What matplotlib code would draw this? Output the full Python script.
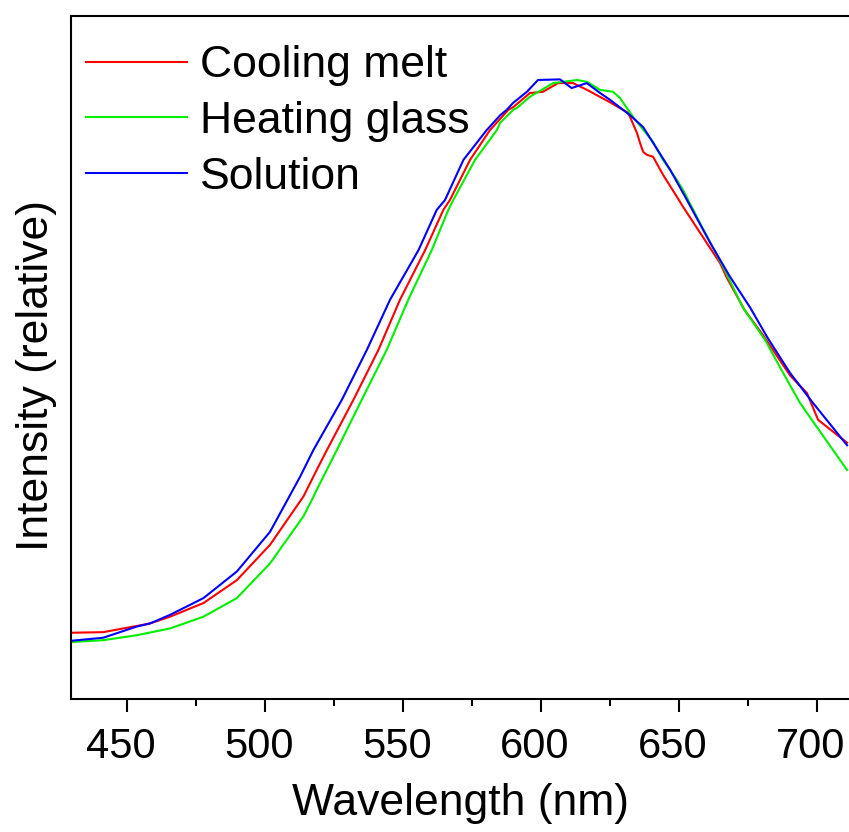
import numpy as np
import matplotlib
matplotlib.use("Agg")
import matplotlib.pyplot as plt
import matplotlib.transforms as mtransforms
from matplotlib.ticker import MultipleLocator

plt.rcParams['font.family'] = ['Liberation Sans', 'DejaVu Sans']

# emission spectra (relative intensity, peak ~ 1)
cool_wl = [429.8, 441.5, 453.6, 458.4, 465.7, 477.8, 489.9, 501.9, 514.0, 519.4,
           522.5, 532.1, 541.2, 549.0, 558.1, 564.7, 567.1, 574.4, 581.6, 588.3,
           590.0, 596.1, 600.8, 606.3, 611.7, 616.8, 625.1, 631.6, 632.4, 634.9,
           636.0, 637.1, 638.5, 640.7, 644.3, 649.4, 651.6, 658.8, 665.0, 667.5,
           673.8, 680.5, 690.3, 696.5, 700.5, 711.0]
cool_i = [0.107, 0.108, 0.118, 0.122, 0.133, 0.155, 0.192, 0.249, 0.327, 0.375,
          0.402, 0.483, 0.564, 0.645, 0.725, 0.790, 0.806, 0.871, 0.919, 0.952,
          0.956, 0.979, 0.981, 0.995, 0.995, 0.984, 0.964, 0.947, 0.940, 0.914,
          0.898, 0.884, 0.879, 0.876, 0.847, 0.811, 0.795, 0.746, 0.704, 0.680,
          0.629, 0.588, 0.523, 0.494, 0.451, 0.414]

heat_wl = [429.8, 441.5, 453.6, 465.7, 477.8, 489.9, 501.9, 514.0, 517.0, 519.4,
           526.1, 535.1, 544.2, 552.0, 560.5, 566.5, 568.3, 576.2, 584.1, 585.3,
           590.1, 591.4, 596.1, 604.5, 613.2, 616.8, 621.5, 626.2, 628.7, 633.5,
           640.7, 644.3, 649.4, 651.6, 657.7, 666.1, 673.3, 681.3, 687.8, 694.0,
           700.1, 711.0]
heat_i = [0.092, 0.095, 0.103, 0.114, 0.133, 0.163, 0.219, 0.295, 0.321, 0.343,
          0.402, 0.483, 0.564, 0.645, 0.725, 0.790, 0.806, 0.871, 0.919, 0.931,
          0.952, 0.955, 0.973, 0.995, 1.000, 0.997, 0.984, 0.981, 0.971, 0.940,
          0.900, 0.871, 0.838, 0.822, 0.769, 0.698, 0.632, 0.580, 0.527, 0.478,
          0.439, 0.370]

sol_wl = [429.8, 441.5, 453.6, 458.4, 465.7, 477.8, 489.9, 501.9, 512.8, 517.6,
          527.9, 537.0, 545.4, 555.7, 562.3, 565.3, 572.0, 580.4, 585.3, 587.7,
          590.0, 595.0, 599.0, 607.0, 611.2, 616.7, 621.5, 625.1, 632.4, 637.1,
          642.2, 646.9, 653.0, 661.4, 668.6, 675.8, 682.0, 690.3, 698.7, 711.0]
sol_i = [0.094, 0.099, 0.117, 0.122, 0.136, 0.163, 0.206, 0.270, 0.359, 0.402,
         0.483, 0.564, 0.645, 0.725, 0.790, 0.806, 0.871, 0.919, 0.943, 0.952,
         0.963, 0.981, 1.000, 1.001, 0.987, 0.995, 0.979, 0.968, 0.943, 0.924,
         0.888, 0.855, 0.806, 0.737, 0.682, 0.633, 0.585, 0.527, 0.478, 0.410]

fig = plt.figure(figsize=(8.49, 8.32), dpi=100)
ax = fig.add_axes([71 / 849, 133 / 832, 1 - 71 / 849, (699 - 16) / 832])

ax.plot(cool_wl, cool_i, color='#ff0000', lw=1.5, label='Cooling melt')
ax.plot(heat_wl, heat_i, color='#00ee00', lw=1.5, label='Heating glass')
ax.plot(sol_wl, sol_i, color='#0000ff', lw=1.5, label='Solution')

ax.set_xlim(429.8, 711.7)
ax.set_ylim(0, 683 / 619)

ax.spines['right'].set_visible(False)
for s in ['left', 'top', 'bottom']:
    ax.spines[s].set_linewidth(1.5)

ax.xaxis.set_major_locator(MultipleLocator(50))
ax.xaxis.set_minor_locator(MultipleLocator(25))
ax.tick_params(axis='x', which='major', length=9, width=1.5, labelsize=30, pad=11)
ax.tick_params(axis='x', which='minor', length=5, width=1.5)
ax.set_yticks([])

# tick labels sit a little left of their ticks in the original
shift = mtransforms.ScaledTranslation(-6 / 100, 0, fig.dpi_scale_trans)
for lab in ax.get_xticklabels():
    lab.set_transform(lab.get_transform() + shift)

ax.set_xlabel('Wavelength (nm)', fontsize=32, labelpad=12)
ax.set_ylabel('Intensity (relative)', fontsize=32, labelpad=10)
ax.yaxis.label.set_y(0.474)

ax.legend(loc='upper left', fontsize=32, frameon=False, handlelength=2.27,
          handletextpad=0.3, labelspacing=0.335, borderpad=0.14,
          borderaxespad=0.2, bbox_to_anchor=(0, 1 - 14 / 683))

fig.savefig('out.png', dpi=100)
